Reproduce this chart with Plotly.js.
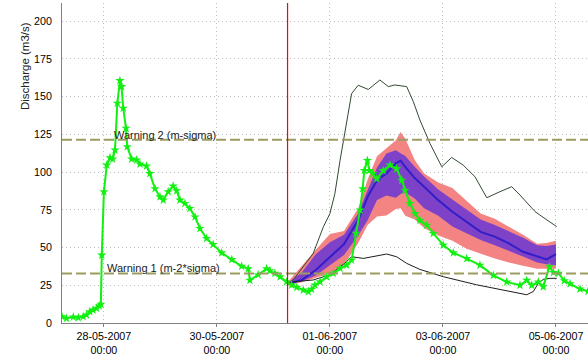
<!DOCTYPE html>
<html>
<head>
<meta charset="utf-8">
<script src="https://cdn.plot.ly/plotly-3.0.1.min.js"></script>
<style>
html,body{margin:0;padding:0;background:#fff;}
#chart{width:588px;height:355px;}
</style>
</head>
<body>
<div id="chart"></div>
<script>
// Time is given in hours relative to 28-05-2007 00:00
const baseDate = '2007-05-28T00:00:00Z';

// Observed discharge (green, star markers)
const obsHours = [
  -17.8,-15.9,-13.0,-10.9,-8.8,-7.4,-6.0,-4.6,-3.1,-2.0,-1.3,
  -0.9,0,1.2,2.6,3.7,4.7,5.7,6.8,7.5,8.2,9.4,9.9,
  11.8,13.9,15.3,18.1,19.5,21.7,23.8,25.2,27.3,29.4,30.9,
  32.3,34.4,36.5,38.7,40.8,43.6,46.4,50.0,54.3,58.5,
  61.3,62.0,65.5,69.1,70.5,72.6,74.8,77.6,79.7,81.9,84.7,86.8,88.2,89.6,91.8,94.6,97.4,100.3,103.1,
  105.2,107.1,108.8,109.9,110.6,111.9,112.7,114.2,115.9,
  118.6,121.5,124.3,126.5,127.9,130.0,132.1,134.2,137.1,139.9,
  144.1,148.4,154.1,159.7,165.4,171.1,176.7,179.6,181.7,184.5,186.6,
  189.2,190.9,193.0,195.5,198.0,202.2,205.6
];
const obsValues = [
  4.2,3.1,4.0,3.5,4.2,5.3,7.5,8.6,9.7,11.3,12.4,
  45,87,104.6,109.5,108.6,114.6,145.6,160.6,156.6,142.3,129,116.8,
  108.6,108,105.3,104,99,89,83.6,81.4,87,90.7,87.6,
  81.4,79.2,75.9,70.3,62.6,56,52,46.5,42,37.6,
  36,28.3,32,36,34.6,32.9,30.6,27.3,25.1,23.6,21.8,20.7,22.3,25.1,27.3,30.6,32.9,36.2,38.4,
  41.7,59.5,74.8,89,101.1,107.7,101,99,95.5,
  101,104.6,102.2,94.6,88,79.2,72.6,68,64.8,59.3,
  51.6,46.5,42.7,38.3,31.6,27.2,25,28.3,25,27.2,24,
  37.3,33.5,33,28,26,22.5,21
];

// Ensemble forecast
const forecastStart = 78;
const fcHours = [78,84,90,96,102,108,112,116,120,124,126,128,132,136,142,148,154,160,166,172,178,184,188,192];
const fcMedian = [26,28.5,35.1,43.9,52.3,68.2,83.6,94.6,99,106,107.5,103.5,96,90.2,81.4,73.7,67.1,60.4,57.2,52.7,47.2,43.9,42.1,45.7];
const fcInnerUpper = [26.5,33.5,45.5,53.5,58.5,72.5,88,103,112.3,114.5,112.5,110.7,103.5,97,88.5,82,75,68.5,65,61,56.5,51.5,51,52];
const fcInnerLower = [25.5,27.5,31.5,38,45,58,68,81.5,84.5,83,85.5,86.5,82.5,76,71,64,59.5,55,51.5,48,44,40,39,38.3];
const fcOuterUpper = [27,38,48.5,59,61,76,95,110.5,116,121,126.5,122,108,99,93,89.5,81,72.5,69,64,58.5,52.5,53,54.5];
const fcOuterLower = [25,27,29.8,33,38.5,53,65,70.5,71.2,75.5,76,71,68.5,63,58,54.5,49.2,46,42.7,40,38,36,36,36];

const maxHours = [78,80.4,88.9,93.2,96.0,98.1,100.3,103.1,105.2,108.0,112.3,117.2,120.8,123.6,128.6,131.4,134.2,138.5,143.5,147.7,152.6,157.6,162.6,168.2,173.2,176.7,183.1,188.1,192.3];
const maxValues = [25,28.5,46.1,63.7,72.5,85.7,107.8,134.3,152,157.5,154.7,161,156.6,157.7,156.6,146.7,134.5,118.9,103.5,109.7,104.6,96.9,83,87,90.3,84.8,73.8,68.3,63.9];
const minHours = [78,80.4,88.9,96.0,102.4,105.2,110.2,114.4,120.1,124.3,128.6,134.2,144.1,158.3,172.5,179.6,182.4,184.5,186.6,189.5,192.3];
const minValues = [25,27.3,28.5,32,39.7,43.9,42.8,43.9,45.7,43.9,39.5,35.5,30.7,25.3,20.9,18.7,20.9,26.3,28.9,29.6,29.6];

// Warning levels
const warningLevels = [32.8, 121.4];
const warningLabels = ['Warning 1 (m-2*sigma)', 'Warning 2 (m-sigma)'];
const warningLabelHours = [0.6, 3.6];

// Axes
const xRangeHours = [-17.8, 205.6];
const yRange = [0, 212];
const tickHours = [0, 48, 96, 144, 192];
const tickLabels = ['28-05-2007<br>00:00','30-05-2007<br>00:00','01-06-2007<br>00:00','03-06-2007<br>00:00','05-06-2007<br>00:00'];
const yTitle = 'Discharge (m3/s)';

const base = Date.parse(baseDate);
function hToDate(h){
  return new Date(base + h*3600000).toISOString().slice(0,19).replace('T',' ');
}
const fcX = fcHours.map(hToDate);
const rev = a => a.slice().reverse();

const font = 'Liberation Sans, Arial, sans-serif';
const fs = 10.7;

const traces = [
  { x: fcX.concat(rev(fcX)), y: fcOuterUpper.concat(rev(fcOuterLower)),
    type:'scatter', mode:'lines', fill:'toself', fillcolor:'rgb(244,132,132)',
    line:{width:0, color:'rgb(244,132,132)'}, hoverinfo:'skip' },
  { x: fcX.concat(rev(fcX)), y: fcInnerUpper.concat(rev(fcInnerLower)),
    type:'scatter', mode:'lines', fill:'toself', fillcolor:'rgb(126,66,200)',
    line:{width:0, color:'rgb(126,66,200)'}, hoverinfo:'skip' },
  { x: fcX, y: fcMedian, type:'scatter', mode:'lines',
    line:{width:2, color:'rgb(50,30,200)'} },
  { x: maxHours.map(hToDate), y: maxValues, type:'scatter', mode:'lines',
    line:{width:1, color:'rgb(50,75,50)'} },
  { x: minHours.map(hToDate), y: minValues, type:'scatter', mode:'lines',
    line:{width:1, color:'rgb(30,30,30)'} },
  { x: obsHours.map(hToDate), y: obsValues, type:'scatter', mode:'lines+markers',
    line:{width:2, color:'#11f011'},
    marker:{symbol:'star', size:7, color:'#11f011', line:{width:0}} }
];

const shapes = warningLevels.map(v => ({
  type:'line', xref:'paper', x0:0, x1:1, yref:'y', y0:v, y1:v,
  line:{color:'#9c9c62', width:2, dash:'10px,4px'}
}));
shapes.push({ type:'line', xref:'x', x0:hToDate(forecastStart), x1:hToDate(forecastStart),
  yref:'paper', y0:0, y1:1, line:{color:'#ff0000', width:1.2} });

const annotations = warningLevels.map((v,i) => ({
  xref:'x', yref:'y', x:hToDate(warningLabelHours[i]), y:v,
  xanchor:'left', yanchor:'bottom', yshift:-3, showarrow:false,
  text:warningLabels[i], font:{family:font, size:11, color:'#222'}
}));
annotations.push({
  xref:'paper', yref:'paper', x:0, y:1, xshift:-37, yshift:-17,
  xanchor:'center', yanchor:'top', textangle:-90, showarrow:false,
  text:yTitle, font:{family:font, size:11.5, color:'#222'}
});

const layout = {
  width:588, height:355,
  margin:{l:62, r:0, t:3, b:32, pad:0},
  paper_bgcolor:'#fff', plot_bgcolor:'#fff',
  showlegend:false,
  font:{family:font, size:fs, color:'#000'},
  xaxis:{
    type:'date', range:xRangeHours.map(hToDate),
    tickmode:'array', tickvals:tickHours.map(hToDate), ticktext:tickLabels,
    showgrid:true, gridcolor:'#bdbdbd', griddash:'1px,3px', gridwidth:1,
    showline:true, linecolor:'#808080', linewidth:1,
    ticks:'outside', ticklen:3, tickcolor:'#808080',
    tickfont:{family:font, size:fs, color:'#000'},
    zeroline:false, fixedrange:true
  },
  yaxis:{
    range:yRange, tick0:0, dtick:25,
    showgrid:true, gridcolor:'#bdbdbd', griddash:'1px,3px', gridwidth:1,
    showline:true, linecolor:'#808080', linewidth:1,
    ticks:'outside', ticklen:7, tickcolor:'rgba(0,0,0,0)',
    tickfont:{family:font, size:fs, color:'#000'},
    zeroline:false, fixedrange:true
  },
  shapes:shapes,
  annotations:annotations
};

Plotly.newPlot('chart', traces, layout, {displayModeBar:false, staticPlot:true});
</script>
</body>
</html>
